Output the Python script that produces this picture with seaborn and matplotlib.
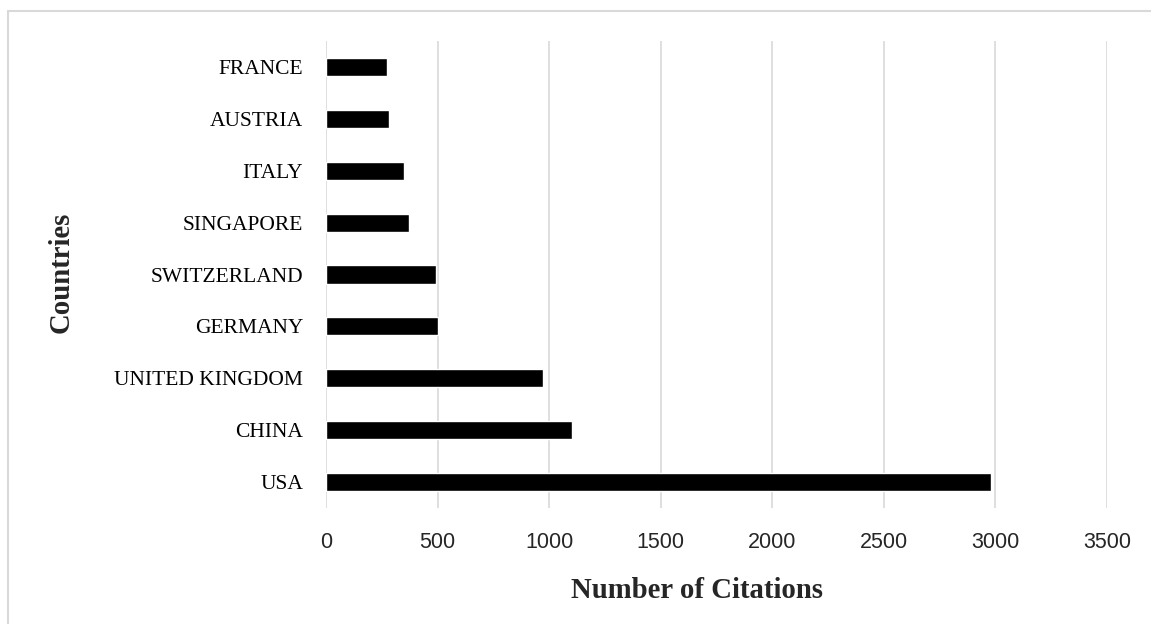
import matplotlib
matplotlib.use("Agg")
import matplotlib.pyplot as plt
from matplotlib.patches import Rectangle
import seaborn as sns
import pandas as pd

countries = ["FRANCE", "AUSTRIA", "ITALY", "SINGAPORE", "SWITZERLAND",
             "GERMANY", "UNITED KINGDOM", "CHINA", "USA"]
citations = [275, 284, 351, 373, 494, 500, 972, 1104, 2981]
x_ticks = [0, 500, 1000, 1500, 2000, 2500, 3000, 3500]

df = pd.DataFrame({"Country": countries, "Citations": citations})

sns.set_theme(style="white")
plt.rcParams["font.family"] = ["Liberation Serif", "DejaVu Serif"]

W, H = 1151, 624
fig = plt.figure(figsize=(W / 100, H / 100), dpi=100)
ax = fig.add_axes([326 / W, 1 - 508 / H, (1107 - 326) / W, (508 - 41) / H])

sns.barplot(data=df, x="Citations", y="Country", order=countries,
            color="black", width=0.35, saturation=1, ax=ax, zorder=3)

ax.set_xlim(0, 3500)
ax.set_ylim(len(countries) - 0.5, -0.5)
ax.set_xticks(x_ticks)
ax.set_xticklabels([str(t) for t in x_ticks], family="Liberation Sans",
                   fontsize=15.5, color="#262626")
ax.tick_params(axis="x", length=0, pad=17.5)
ax.tick_params(axis="y", length=0, pad=16.5, labelsize=15.5, labelcolor="black")
ax.grid(axis="x", color="#d9d9d9", linewidth=1.2, zorder=0)
ax.grid(axis="y", visible=False)
for s in ax.spines.values():
    s.set_visible(False)

ax.set_xlabel("")
ax.set_ylabel("")
fig.text(697 / W, 1 - 590 / H, "Number of Citations", ha="center", va="center",
         fontsize=20.7, fontweight="bold")
fig.text(61 / W, 1 - 272 / H, "Countries", ha="center", va="center",
         rotation=90, fontsize=20.7, fontweight="bold")

# light frame around the chart area
fig.add_artist(Rectangle((8 / W, -0.1), 1.2, 1.1 - 11 / H,
                         transform=fig.transFigure, fill=False,
                         edgecolor="#d9d9d9", linewidth=1.5))

fig.savefig("out.png", dpi=100)
